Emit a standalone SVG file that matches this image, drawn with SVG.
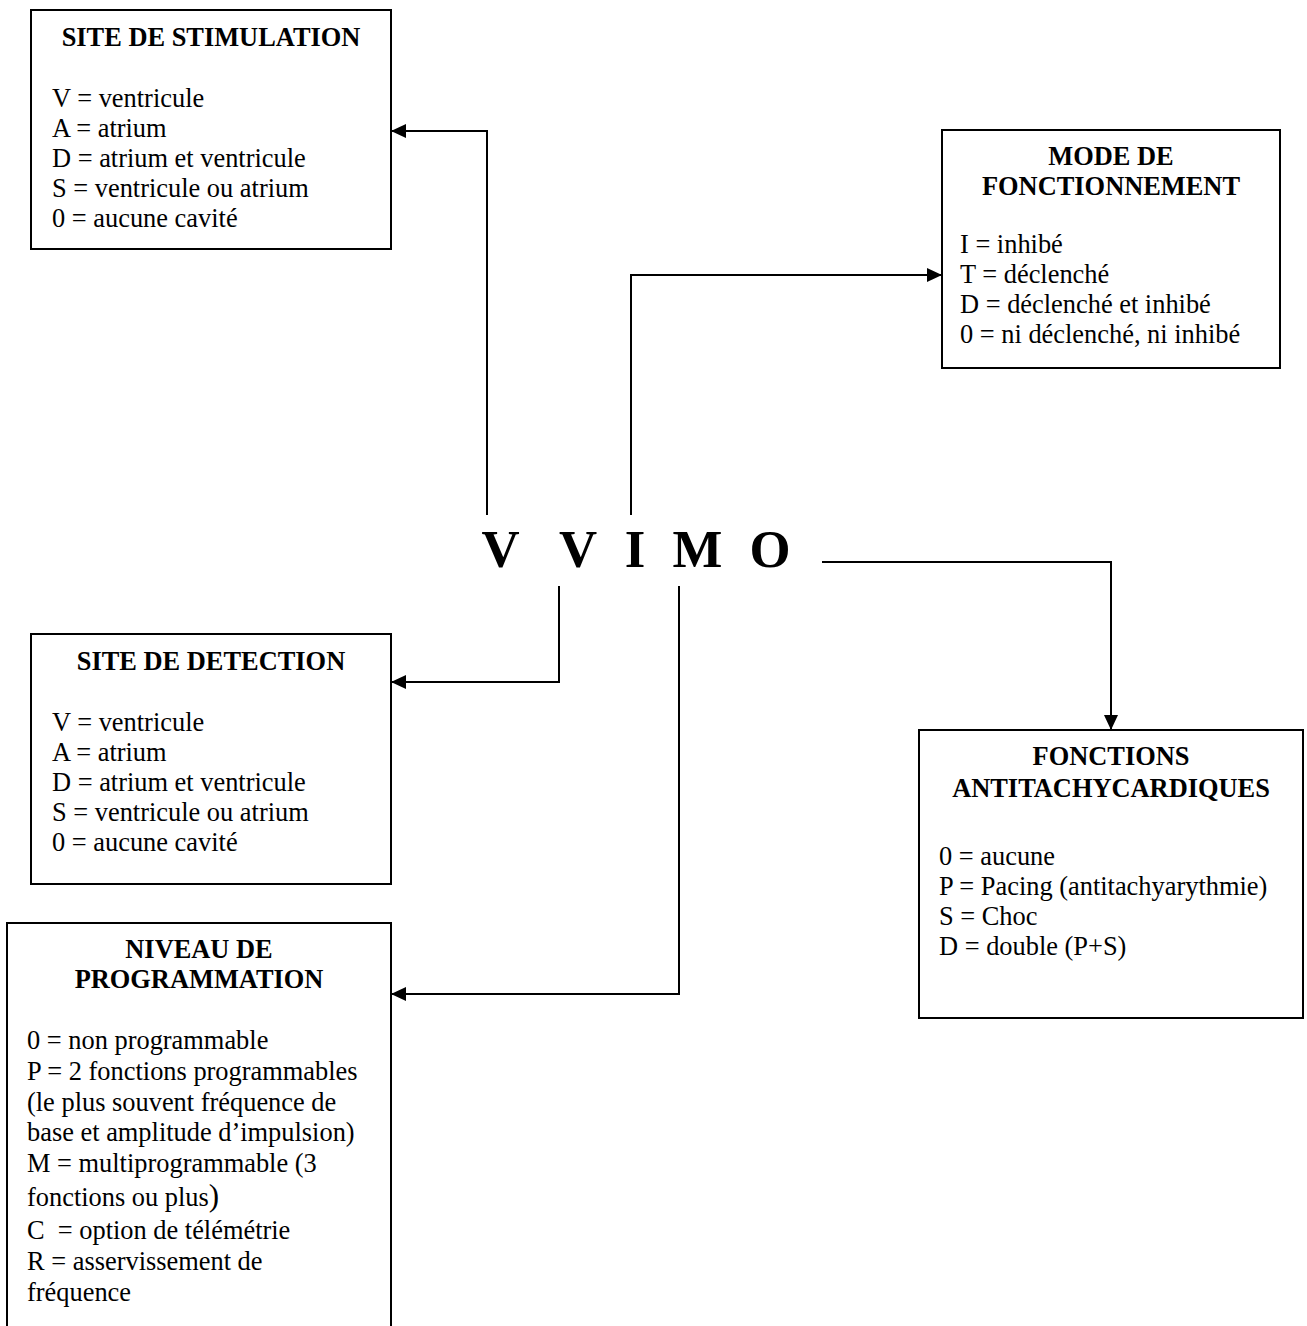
<svg xmlns="http://www.w3.org/2000/svg" width="1307" height="1326" viewBox="0 0 1307 1326">
<style>
  .box { fill: #fff; stroke: #000; stroke-width: 2; }
  .t { font-family: "Liberation Serif", "Times New Roman", serif; font-size: 26.4px; fill: #000; }
  .h { font-weight: bold; text-anchor: middle; }
  .big { font-family: "Liberation Serif", "Times New Roman", serif; font-size: 52.8px; font-weight: bold; text-anchor: middle; fill: #000; }
  .c { fill: none; stroke: #000; stroke-width: 2; }
</style>
<defs>
  <marker id="arr" viewBox="0 0 15 14" refX="15" refY="7" markerWidth="15" markerHeight="14" markerUnits="userSpaceOnUse" orient="auto">
    <path d="M0,0 L15,7 L0,14 z" fill="#000"/>
  </marker>
</defs>
<rect width="1307" height="1326" fill="#fff"/>

<g id="code">
  <text class="big" x="500.5" y="567">V</text>
  <text class="big" x="578" y="567">V</text>
  <text class="big" x="635" y="567">I</text>
  <text class="big" x="697.5" y="567">M</text>
  <text class="big" x="770" y="567">O</text>
</g>

<g id="connectors">
  <path class="c" d="M487,515 V131 H391" marker-end="url(#arr)"/>
  <path class="c" d="M631,515 V275 H942" marker-end="url(#arr)"/>
  <path class="c" d="M822,562 H1111 V730" marker-end="url(#arr)"/>
  <path class="c" d="M559,586 V682 H391" marker-end="url(#arr)"/>
  <path class="c" d="M679,586 V994 H391" marker-end="url(#arr)"/>
</g>

<g id="site-stimulation">
  <rect class="box" x="31" y="10" width="360" height="239"/>
  <text class="t h" x="211" y="46">SITE DE STIMULATION</text>
  <text class="t" x="52" y="107">V = ventricule</text>
  <text class="t" x="52" y="137">A = atrium</text>
  <text class="t" x="52" y="167">D = atrium et ventricule</text>
  <text class="t" x="52" y="197">S = ventricule ou atrium</text>
  <text class="t" x="52" y="227">0 = aucune cavité</text>
</g>

<g id="mode-fonctionnement">
  <rect class="box" x="942" y="130" width="338" height="238"/>
  <text class="t h" x="1111" y="165">MODE DE</text>
  <text class="t h" x="1111" y="195">FONCTIONNEMENT</text>
  <text class="t" x="960" y="253">I = inhibé</text>
  <text class="t" x="960" y="283">T = déclenché</text>
  <text class="t" x="960" y="313">D = déclenché et inhibé</text>
  <text class="t" x="960" y="343">0 = ni déclenché, ni inhibé</text>
</g>

<g id="site-detection">
  <rect class="box" x="31" y="634" width="360" height="250"/>
  <text class="t h" x="211" y="670">SITE DE DETECTION</text>
  <text class="t" x="52" y="731">V = ventricule</text>
  <text class="t" x="52" y="761">A = atrium</text>
  <text class="t" x="52" y="791">D = atrium et ventricule</text>
  <text class="t" x="52" y="821">S = ventricule ou atrium</text>
  <text class="t" x="52" y="851">0 = aucune cavité</text>
</g>

<g id="fonctions-antitachycardiques">
  <rect class="box" x="919" y="730" width="384" height="288"/>
  <text class="t h" x="1111" y="765">FONCTIONS</text>
  <text class="t h" x="1111" y="797">ANTITACHYCARDIQUES</text>
  <text class="t" x="939" y="865">0 = aucune</text>
  <text class="t" x="939" y="895">P = Pacing (antitachyarythmie)</text>
  <text class="t" x="939" y="925">S = Choc</text>
  <text class="t" x="939" y="955">D = double (P+S)</text>
</g>

<g id="niveau-programmation">
  <rect class="box" x="7" y="923" width="384" height="430"/>
  <text class="t h" x="199" y="958">NIVEAU DE</text>
  <text class="t h" x="199" y="988">PROGRAMMATION</text>
  <text class="t" x="27" y="1049">0 = non programmable</text>
  <text class="t" x="27" y="1080">P = 2 fonctions programmables</text>
  <text class="t" x="27" y="1111">(le plus souvent fréquence de</text>
  <text class="t" x="27" y="1141">base et amplitude d’impulsion)</text>
  <text class="t" x="27" y="1172">M = multiprogrammable (3</text>
  <text class="t" x="27" y="1206">fonctions ou plus<tspan font-size="31">)</tspan></text>
  <text class="t" x="27" y="1239" xml:space="preserve">C  = option de télémétrie</text>
  <text class="t" x="27" y="1270">R = asservissement de</text>
  <text class="t" x="27" y="1301">fréquence</text>
</g>
</svg>
